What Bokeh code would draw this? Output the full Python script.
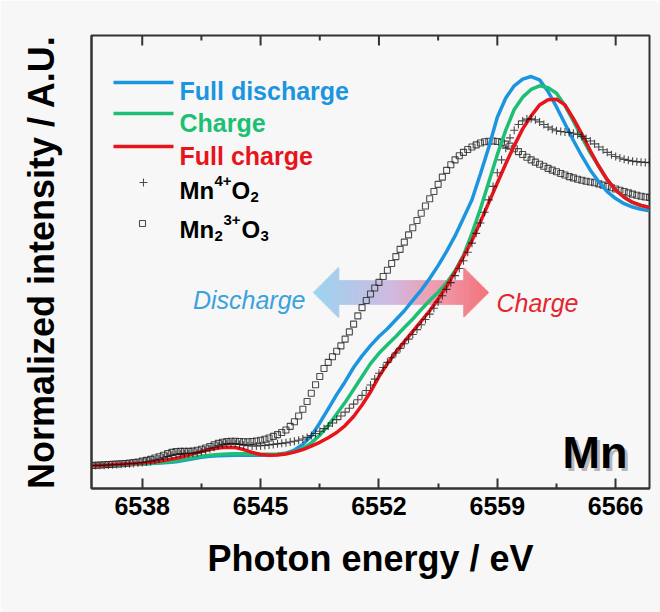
import numpy as np
from bokeh.plotting import figure
from bokeh.models import FixedTicker, Label
from bokeh.embed import file_html
from bokeh.resources import INLINE

# ---------------------------------------------------------------------------
# Mn K-edge XANES: photon energy (eV) vs normalized intensity
# ---------------------------------------------------------------------------
x_ticks = [6538, 6545, 6552, 6559, 6566]
x_minor = [6541.5, 6548.5, 6555.5, 6562.5]

# electrode spectra, sampled every 0.5 eV from 6535 to 6568 eV
full_discharge = [
    0.000, 0.000, 0.002, 0.003, 0.004, 0.005, 0.006, 0.008, 0.010, 0.012,
    0.015, 0.020, 0.026, 0.032, 0.036, 0.038, 0.039, 0.040, 0.040, 0.040,
    0.040, 0.041, 0.043, 0.048, 0.060, 0.082, 0.115, 0.165, 0.220, 0.275,
    0.325, 0.380, 0.425, 0.465, 0.500, 0.530, 0.565, 0.600, 0.640, 0.680,
    0.725, 0.775, 0.830, 0.890, 0.960, 1.030, 1.130, 1.235, 1.350, 1.425,
    1.472, 1.498, 1.508, 1.495, 1.450, 1.390, 1.325, 1.260, 1.200, 1.145,
    1.100, 1.062, 1.035, 1.015, 1.002, 0.993, 0.988,
]
charge = [
    0.000, 0.000, 0.002, 0.003, 0.004, 0.005, 0.006, 0.008, 0.011, 0.014,
    0.018, 0.024, 0.030, 0.036, 0.040, 0.043, 0.045, 0.046, 0.046, 0.045,
    0.044, 0.044, 0.045, 0.048, 0.054, 0.066, 0.088, 0.118, 0.155, 0.200,
    0.245, 0.295, 0.345, 0.395, 0.435, 0.468, 0.500, 0.535, 0.568, 0.605,
    0.640, 0.672, 0.708, 0.755, 0.815, 0.900, 0.995, 1.100, 1.205, 1.300,
    1.380, 1.428, 1.458, 1.472, 1.465, 1.443, 1.395, 1.335, 1.272, 1.212,
    1.160, 1.108, 1.068, 1.040, 1.020, 1.008, 1.000,
]
full_charge = [
    0.000, 0.001, 0.002, 0.004, 0.006, 0.008, 0.010, 0.013, 0.017, 0.022,
    0.028, 0.036, 0.045, 0.054, 0.062, 0.068, 0.071, 0.070, 0.062, 0.051,
    0.043, 0.040, 0.041, 0.045, 0.052, 0.062, 0.075, 0.090, 0.108, 0.128,
    0.155, 0.190, 0.235, 0.285, 0.345, 0.395, 0.440, 0.480, 0.520, 0.560,
    0.600, 0.645, 0.695, 0.750, 0.810, 0.872, 0.945, 1.020, 1.095, 1.170,
    1.240, 1.305, 1.355, 1.398, 1.418, 1.420, 1.398, 1.345, 1.285, 1.220,
    1.160, 1.108, 1.068, 1.040, 1.020, 1.008, 1.000,
]

# reference oxides, sampled every 0.25 eV from 6535 to 6568 eV
mn4_o2 = [
    0.000, 0.000, 0.001, 0.001, 0.002, 0.003, 0.004, 0.005,
    0.006, 0.007, 0.008, 0.010, 0.012, 0.014, 0.017, 0.021,
    0.025, 0.030, 0.035, 0.040, 0.044, 0.046, 0.047, 0.047,
    0.048, 0.050, 0.054, 0.059, 0.065, 0.071, 0.077, 0.082,
    0.085, 0.086, 0.085, 0.082, 0.079, 0.077, 0.076, 0.076,
    0.077, 0.078, 0.080, 0.082, 0.084, 0.086, 0.088, 0.091,
    0.094, 0.098, 0.103, 0.109, 0.116, 0.124, 0.133, 0.143,
    0.153, 0.165, 0.178, 0.192, 0.207, 0.222, 0.238, 0.255,
    0.272, 0.291, 0.312, 0.335, 0.358, 0.380, 0.400, 0.418,
    0.436, 0.454, 0.472, 0.490, 0.508, 0.527, 0.546, 0.566,
    0.587, 0.610, 0.634, 0.658, 0.683, 0.709, 0.736, 0.764,
    0.794, 0.827, 0.862, 0.900, 0.940, 0.982, 1.030, 1.082,
    1.135, 1.185, 1.230, 1.270, 1.300, 1.322, 1.336, 1.343,
    1.344, 1.340, 1.332, 1.322, 1.312, 1.304, 1.298, 1.295,
    1.293, 1.291, 1.288, 1.283, 1.276, 1.268, 1.258, 1.247,
    1.235, 1.224, 1.214, 1.205, 1.198, 1.192, 1.187, 1.183,
    1.180, 1.178, 1.176, 1.175, 1.174,
]
mn2_3_o3 = [
    0.000, 0.001, 0.002, 0.003, 0.004, 0.005, 0.006, 0.007,
    0.008, 0.010, 0.012, 0.014, 0.017, 0.020, 0.024, 0.029,
    0.034, 0.040, 0.046, 0.051, 0.054, 0.055, 0.055, 0.055,
    0.056, 0.059, 0.063, 0.068, 0.074, 0.080, 0.086, 0.090,
    0.093, 0.094, 0.094, 0.093, 0.092, 0.092, 0.093, 0.095,
    0.098, 0.102, 0.107, 0.113, 0.120, 0.128, 0.138, 0.152,
    0.170, 0.192, 0.218, 0.248, 0.280, 0.313, 0.345, 0.376,
    0.400, 0.422, 0.443, 0.464, 0.490, 0.518, 0.548, 0.580,
    0.612, 0.640, 0.665, 0.688, 0.710, 0.733, 0.757, 0.783,
    0.810, 0.838, 0.866, 0.894, 0.922, 0.950, 0.978, 1.006,
    1.034, 1.062, 1.090, 1.118, 1.144, 1.166, 1.185, 1.201,
    1.214, 1.225, 1.235, 1.243, 1.250, 1.255, 1.257, 1.258,
    1.256, 1.252, 1.246, 1.238, 1.228, 1.217, 1.206, 1.195,
    1.185, 1.176, 1.168, 1.160, 1.152, 1.145, 1.139, 1.132,
    1.126, 1.120, 1.115, 1.110, 1.106, 1.102, 1.099, 1.096,
    1.092, 1.087, 1.082, 1.077, 1.072, 1.067, 1.062, 1.057,
    1.052, 1.048, 1.044, 1.041, 1.039,
]

energy_lines = 6535.0 + 0.5 * np.arange(len(full_discharge))
energy_refs = 6535.0 + 0.25 * np.arange(len(mn4_o2))

# ---------------------------------------------------------------------------
# figure geometry and style
# ---------------------------------------------------------------------------
X0, X1 = 6535.0, 6568.0
Y0, Y1 = -0.089, 1.667
W, H = 660, 612
BL, BR, BT, BB = 91, 11, 35, 124
FW, FH = W - BL - BR, H - BT - BB

FONT = "Liberation Sans"
BG = "#f7f7f7"
FRAME = "#333333"
BLUE = "#1b95e0"
GREEN = "#1cbf74"
RED = "#e8141c"


def sx(px):
    """screen x (px) -> energy"""
    return X0 + (px - BL) * (X1 - X0) / FW


def sy(py):
    """screen y (px from top) -> intensity"""
    return Y0 + (BT + FH - py) * (Y1 - Y0) / FH


p = figure(width=W, height=H, x_range=(X0, X1), y_range=(Y0, Y1),
           output_backend="svg", toolbar_location=None,
           min_border_left=BL, min_border_right=BR,
           min_border_top=BT, min_border_bottom=BB,
           background_fill_color=BG, border_fill_color=BG,
           outline_line_color=FRAME, outline_line_width=2)
p.xgrid.visible = False
p.ygrid.visible = False

xa = p.xaxis[0]
xa.ticker = FixedTicker(ticks=x_ticks, minor_ticks=x_minor)
xa.major_tick_in = 10
xa.major_tick_out = 0
xa.minor_tick_in = 5
xa.minor_tick_out = 0
xa.major_tick_line_width = 2
xa.minor_tick_line_width = 2
xa.major_tick_line_color = FRAME
xa.minor_tick_line_color = FRAME
xa.axis_line_color = FRAME
xa.axis_line_width = 2
xa.major_label_text_font = FONT
xa.major_label_text_font_size = "25px"
xa.major_label_text_font_style = "bold"
xa.major_label_text_color = "black"
xa.major_label_standoff = 8
xa.axis_label = "Photon energy / eV"
xa.axis_label_text_font = FONT
xa.axis_label_text_font_size = "36px"
xa.axis_label_text_font_style = "bold"
xa.axis_label_text_color = "black"
xa.axis_label_standoff = 20

ya = p.yaxis[0]
ya.ticker = FixedTicker(ticks=[])
ya.major_tick_in = 0
ya.major_tick_out = 0
ya.minor_tick_in = 0
ya.minor_tick_out = 0
ya.axis_line_color = FRAME
ya.axis_line_width = 2
ya.axis_label = "Normalized intensity / A.U."
ya.axis_label_text_font = FONT
ya.axis_label_text_font_size = "36px"
ya.axis_label_text_font_style = "bold"
ya.axis_label_text_color = "black"
ya.axis_label_standoff = 30

# inward ticks along the top edge of the frame (no labels there)
dy_px = (Y1 - Y0) / FH
p.segment(x0=x_ticks, x1=x_ticks, y0=[Y1] * len(x_ticks),
          y1=[Y1 - 10 * dy_px] * len(x_ticks), line_color=FRAME, line_width=2)
p.segment(x0=x_minor, x1=x_minor, y0=[Y1] * len(x_minor),
          y1=[Y1 - 5 * dy_px] * len(x_minor), line_color=FRAME, line_width=2)

# ---------------------------------------------------------------------------
# double-headed gradient arrow (blue -> red), drawn as thin vertical slices
# ---------------------------------------------------------------------------
stops = [(0.0, (150, 210, 240)), (0.45, (205, 182, 222)),
         (0.7, (240, 150, 170)), (1.0, (242, 108, 116))]


def blend(t):
    for (t0, c0), (t1, c1) in zip(stops[:-1], stops[1:]):
        if t <= t1:
            f = (t - t0) / (t1 - t0)
            return "#%02x%02x%02x" % tuple(int(round(a + (b - a) * f)) for a, b in zip(c0, c1))
    return "#%02x%02x%02x" % stops[-1][1]


a_left, a_right, a_cy = 313.0, 488.0, 292.0
head_len, head_half, shaft_half = 25.0, 25.0, 12.0
step = 1.5
lefts, rights, tops, bottoms, cols = [], [], [], [], []
xp = a_left
while xp < a_right:
    xq = min(xp + step, a_right)
    xm = 0.5 * (xp + xq)
    if xm < a_left + head_len:
        h = head_half * (xm - a_left) / head_len
    elif xm > a_right - head_len:
        h = head_half * (a_right - xm) / head_len
    else:
        h = shaft_half
    lefts.append(sx(xp))
    rights.append(sx(xq))
    tops.append(sy(a_cy - h))
    bottoms.append(sy(a_cy + h))
    cols.append(blend((xm - a_left) / (a_right - a_left)))
    xp = xq
p.quad(left=lefts, right=rights, top=tops, bottom=bottoms,
       fill_color=cols, line_color=cols, line_width=0.6, alpha=0.9)

# ---------------------------------------------------------------------------
# spectra
# ---------------------------------------------------------------------------
p.scatter(energy_refs, mn2_3_o3, marker="square", size=6, fill_color=None,
          line_color="#222222", line_width=1.1, line_alpha=0.8)
p.line(energy_lines, full_discharge, line_color=BLUE, line_width=3.5)
p.line(energy_lines, charge, line_color=GREEN, line_width=3.5)
p.line(energy_lines, full_charge, line_color=RED, line_width=3.5)
p.scatter(energy_refs, mn4_o2, marker="cross", size=8,
          line_color="#111111", line_width=1.1, line_alpha=0.75)

# ---------------------------------------------------------------------------
# annotations
# ---------------------------------------------------------------------------


def put(text, px, py, size, color="black", style="bold", align="left", alpha=1.0):
    p.add_layout(Label(x=sx(px), y=sy(py), text=text, text_font=FONT,
                       text_font_size=size, text_font_style=style,
                       text_color=color, text_alpha=alpha,
                       text_align=align, text_baseline="alphabetic"))


put("Discharge", 305, 299, "25px", color="#3ba2de", style="italic", align="right")
put("Charge", 496, 302, "25px", color="#e3262f", style="italic")

put("Mn", 630, 455, "45px", color="#666666", alpha=0.45, align="right")
put("Mn", 627, 452, "45px", align="right")

# hand-built legend: coloured labels and chemical formulas with sub/superscripts
swatch_x0, swatch_x1, text_x = 113, 173, 179
for color, label, line_y, base_y in [(BLUE, "Full discharge", 82, 90),
                                     (GREEN, "Charge", 113, 122),
                                     (RED, "Full charge", 146, 155)]:
    p.line([sx(swatch_x0), sx(swatch_x1)], [sy(line_y), sy(line_y)],
           line_color=color, line_width=3.5)
    put(label, text_x, base_y, "25px", color=color)

p.scatter([sx(143)], [sy(182)], marker="cross", size=8,
          line_color="#111111", line_width=1.1, line_alpha=0.75)
for text, dx, dy, size in [("Mn", 0, 0, "24px"), ("4+", 35, -10, "15px"),
                           ("O", 52, 0, "24px"), ("2", 71, 6, "15px")]:
    put(text, text_x + dx, 190 + dy, size)

p.scatter([sx(142)], [sy(223)], marker="square", size=6, fill_color=None,
          line_color="#222222", line_width=1.1, line_alpha=0.8)
for text, dx, dy, size in [("Mn", 0, 0, "24px"), ("2", 35, 6, "15px"),
                           ("3+", 44, -10, "15px"), ("O", 62, 0, "24px"),
                           ("3", 81, 6, "15px")]:
    put(text, text_x + dx, 229 + dy, size)

open("out.html", "w").write(file_html(p, INLINE))
